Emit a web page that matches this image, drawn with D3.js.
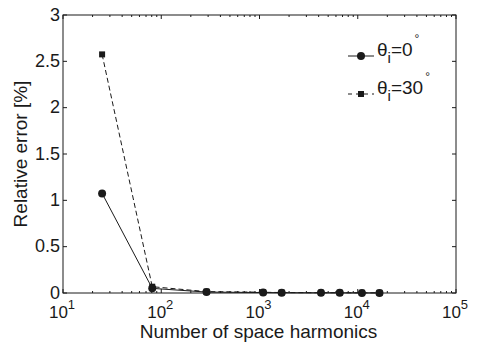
<!DOCTYPE html>
<html>
<head>
<meta charset="utf-8">
<script src="https://cdn.jsdelivr.net/npm/d3@7"></script>
<style>
  body { margin: 0; background: #fff; }
  svg { display: block; font-family: "Liberation Sans", Arial, sans-serif; }
</style>
</head>
<body>
<div id="chart"></div>
<script>
// harmonics count (x) and relative error in % for each incidence angle
const harmonics = [25, 81, 289, 1089, 1681, 4225, 6561, 11025, 16641]
const err_theta0 = [1.075, 0.05, 0.01, 0.005, 0.003, 0.002, 0.002, 0.001, 0.001]
const err_theta30 = [2.575, 0.068, 0.015, 0.008, 0.005, 0.003, 0.003, 0.002, 0.002]
const yTicks = [0, 0.5, 1, 1.5, 2, 2.5, 3]
const xDecades = [1, 2, 3, 4, 5]
const legendLabels = ["0", "30"]

const width = 477, height = 342
const margin = {top: 15, right: 21, bottom: 49, left: 63}
const ink = "#1a1a1a"

const svg = d3.select("#chart").append("svg")
    .attr("width", width)
    .attr("height", height)

const xScale = d3.scaleLog()
    .domain([10, 1e5])
    .range([margin.left, width - margin.right])
const yScale = d3.scaleLinear()
    .domain([0, 3])
    .range([height - margin.bottom, margin.top])

const x0 = xScale.range()[0], x1 = xScale.range()[1]
const y0 = yScale.range()[0], y1 = yScale.range()[1]

// frame
svg.append("rect")
    .attr("x", x0).attr("y", y1)
    .attr("width", x1 - x0).attr("height", y0 - y1)
    .attr("fill", "none").attr("stroke", ink).attr("stroke-width", 1)

// y ticks (inside, both sides)
const yt = svg.append("g").attr("class", "axis_y")
yt.selectAll("line.l").data(yTicks).enter().append("line")
    .attr("x1", x0).attr("x2", x0 + 4)
    .attr("y1", d => yScale(d)).attr("y2", d => yScale(d))
    .attr("stroke", ink)
yt.selectAll("line.r").data(yTicks).enter().append("line")
    .attr("x1", x1).attr("x2", x1 - 4)
    .attr("y1", d => yScale(d)).attr("y2", d => yScale(d))
    .attr("stroke", ink)
yt.selectAll("text").data(yTicks).enter().append("text")
    .attr("x", x0 - 3)
    .attr("y", d => yScale(d) + 5.5)
    .attr("text-anchor", "end")
    .attr("font-size", 18)
    .attr("fill", ink)
    .text(d => d)

// x ticks: major decades + minor 2..9
const minor = []
for (let e = 1; e < 5; e++) for (let m = 2; m < 10; m++) minor.push(m * Math.pow(10, e))
const xt = svg.append("g").attr("class", "axis_x")
xt.selectAll("line.minb").data(minor).enter().append("line")
    .attr("x1", d => xScale(d)).attr("x2", d => xScale(d))
    .attr("y1", y0).attr("y2", y0 - 2)
    .attr("stroke", ink)
xt.selectAll("line.mint").data(minor).enter().append("line")
    .attr("x1", d => xScale(d)).attr("x2", d => xScale(d))
    .attr("y1", y1).attr("y2", y1 + 2)
    .attr("stroke", ink)
xt.selectAll("line.majb").data(xDecades).enter().append("line")
    .attr("x1", d => xScale(Math.pow(10, d))).attr("x2", d => xScale(Math.pow(10, d)))
    .attr("y1", y0).attr("y2", y0 - 4)
    .attr("stroke", ink)
xt.selectAll("line.majt").data(xDecades).enter().append("line")
    .attr("x1", d => xScale(Math.pow(10, d))).attr("x2", d => xScale(Math.pow(10, d)))
    .attr("y1", y1).attr("y2", y1 + 4)
    .attr("stroke", ink)
const xl = xt.selectAll("text").data(xDecades).enter().append("text")
    .attr("x", d => xScale(Math.pow(10, d)) - 1)
    .attr("y", y0 + 24.5)
    .attr("text-anchor", "middle")
    .attr("font-size", 17)
    .attr("fill", ink)
xl.append("tspan").text("10")
xl.append("tspan").attr("dy", -9).attr("font-size", 13).text(d => d)

// axis titles
svg.append("text")
    .attr("x", (x0 + x1) / 2 - 1)
    .attr("y", height - 4)
    .attr("text-anchor", "middle")
    .attr("font-size", 19)
    .attr("fill", ink)
    .text("Number of space harmonics")
svg.append("text")
    .attr("transform", `translate(27,${(y0 + y1) / 2}) rotate(-90)`)
    .attr("text-anchor", "middle")
    .attr("font-size", 19)
    .attr("fill", ink)
    .text("Relative error [%]")

// series
const line = d3.line()
    .x(d => xScale(d[0]))
    .y(d => yScale(d[1]))
const pts30 = harmonics.map((h, i) => [h, err_theta30[i]])
const pts0 = harmonics.map((h, i) => [h, err_theta0[i]])

svg.append("path").datum(pts30)
    .attr("d", line).attr("fill", "none")
    .attr("stroke", ink).attr("stroke-width", 1)
    .attr("stroke-dasharray", "5,3")
svg.selectAll("rect.sq").data(pts30).enter().append("rect")
    .attr("class", "sq")
    .attr("x", d => xScale(d[0]) - 3).attr("y", d => yScale(d[1]) - 3)
    .attr("width", 6).attr("height", 6)
    .attr("fill", ink)

svg.append("path").datum(pts0)
    .attr("d", line).attr("fill", "none")
    .attr("stroke", ink).attr("stroke-width", 1)
svg.selectAll("circle.pt").data(pts0).enter().append("circle")
    .attr("class", "pt")
    .attr("cx", d => xScale(d[0])).attr("cy", d => yScale(d[1]))
    .attr("r", 4)
    .attr("fill", ink)

// legend
const leg = svg.append("g").attr("class", "legend")
legendLabels.forEach((lab, i) => {
    const ly = 56 + i * 38
    const g = leg.append("g")
    g.append("line")
        .attr("x1", 348).attr("x2", 374)
        .attr("y1", ly).attr("y2", ly)
        .attr("stroke", ink)
        .attr("stroke-dasharray", i === 0 ? null : "4,4")
    if (i === 0) {
        g.append("circle").attr("cx", 361).attr("cy", ly).attr("r", 4).attr("fill", ink)
    } else {
        g.append("rect").attr("x", 358).attr("y", ly - 3).attr("width", 6).attr("height", 6).attr("fill", ink)
    }
    const t = g.append("text")
        .attr("x", 377).attr("y", ly)
        .attr("font-size", 19)
        .attr("fill", ink)
    t.append("tspan").text("θ")
    t.append("tspan").attr("dy", 7).attr("font-size", 15).text("i")
    t.append("tspan").attr("dy", -7).text("=" + lab)
    t.append("tspan").attr("dy", -13).attr("dx", 2).attr("font-size", 12).text("°")
})
</script>
</body>
</html>
